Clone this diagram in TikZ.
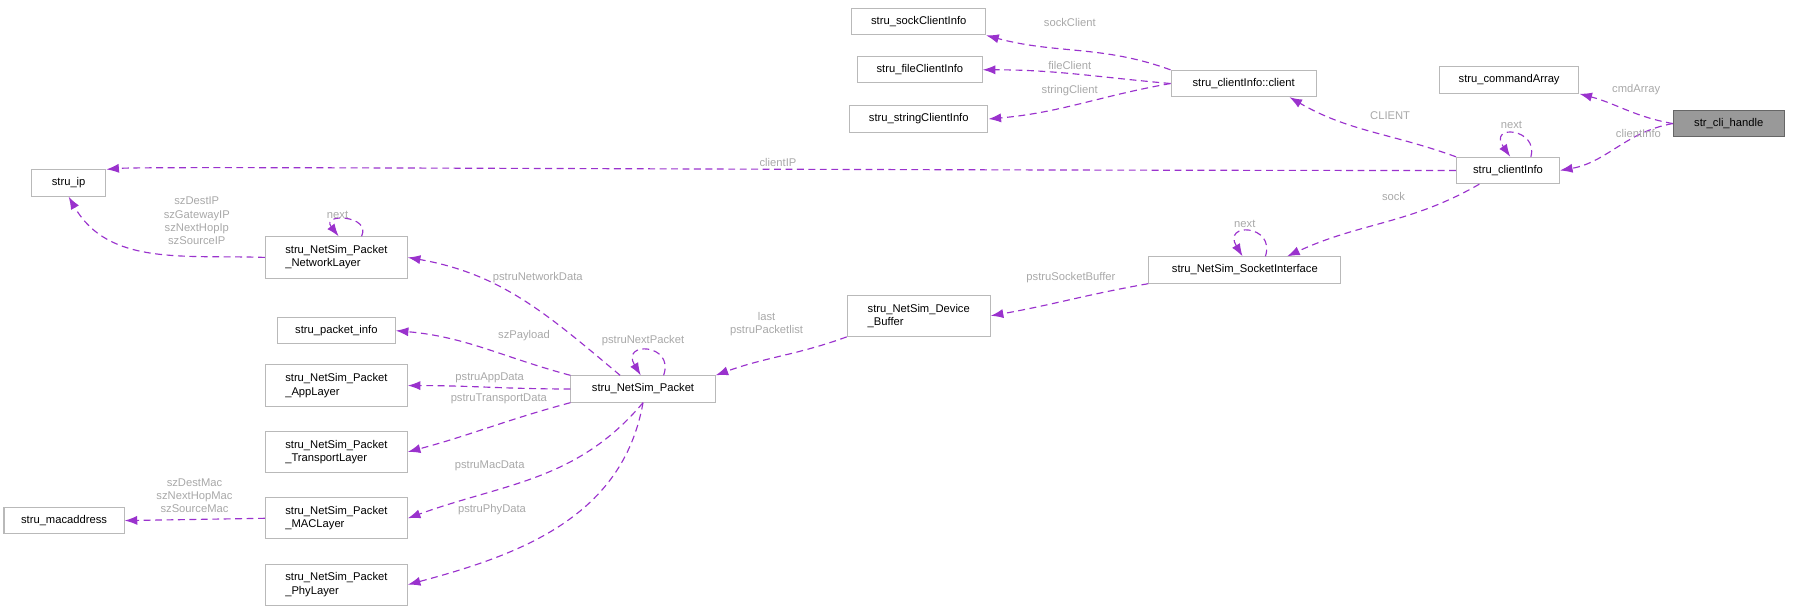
\documentclass[tikz,border=0pt]{standalone}
\usepackage{fontspec}
\setmainfont{Liberation Sans}
\usetikzlibrary{arrows.meta}
\definecolor{edgec}{HTML}{9A32CD}
\definecolor{labc}{HTML}{A8A8A8}
\begin{document}
\begin{tikzpicture}[x=1pt,y=-1pt,
    cls/.style={draw=gray!55, line width=0.9pt, fill=white, minimum height=23pt, inner xsep=5pt, font=\fontsize{9.8}{11.5}\selectfont},
    cls2/.style={cls, align=left, minimum height=36pt},
    uses/.style={draw=edgec, line width=1pt, dash pattern=on 6pt off 4pt, -{Latex[length=11pt,width=8pt]}},
    lab/.style={text=labc, font=\fontsize{9.8}{11.5}\selectfont, align=center, inner sep=1pt}]
  \useasboundingbox (0,0) rectangle (1568,537);

  % classes
  \node[cls, fill=gray!80, draw=gray!80!black, minimum width=97pt] (handle) at (1511,108) {str\_cli\_handle};
  \node[cls, minimum width=122pt] (cmdarr) at (1319,70) {stru\_commandArray};
  \node[cls, minimum width=90pt] (cinfo) at (1318,149) {stru\_clientInfo};
  \node[cls, minimum width=127pt] (client) at (1087,73) {stru\_clientInfo::client};
  \node[cls, minimum width=117pt] (sock) at (803,19) {stru\_sockClientInfo};
  \node[cls, minimum width=109pt] (file) at (804,61) {stru\_fileClientInfo};
  \node[cls, minimum width=121pt] (string) at (803,104) {stru\_stringClientInfo};
  \node[cls, minimum width=65pt] (ip) at (60,160) {stru\_ip};
  \node[cls, minimum width=168pt] (sockif) at (1088,236) {stru\_NetSim\_SocketInterface};
  \node[cls2, minimum width=125pt] (devbuf) at (803,276) {stru\_NetSim\_Device\\\_Buffer};
  \node[cls2, minimum width=124pt] (netlay) at (294,225) {stru\_NetSim\_Packet\\\_NetworkLayer};
  \node[cls, minimum width=103pt] (pinfo) at (294,289) {stru\_packet\_info};
  \node[cls, minimum width=126pt] (packet) at (562,340) {stru\_NetSim\_Packet};
  \node[cls2, minimum width=124pt] (applay) at (294,337) {stru\_NetSim\_Packet\\\_AppLayer};
  \node[cls2, minimum width=124pt] (translay) at (294,395) {stru\_NetSim\_Packet\\\_TransportLayer};
  \node[cls2, minimum width=124pt] (maclay) at (294,453) {stru\_NetSim\_Packet\\\_MACLayer};
  \node[cls, minimum width=105pt] (mac) at (56,455) {stru\_macaddress};
  \node[cls2, minimum width=124pt] (phylay) at (294,511) {stru\_NetSim\_Packet\\\_PhyLayer};

  % relations
  \draw[uses] (handle.west) to[out=170,in=-15] (cmdarr.south east);
  \node[lab] at (1430,78) {cmdArray};
  \draw[uses] (handle.west) to[out=-170,in=10] (cinfo.east);
  \node[lab] at (1432,117) {clientInfo};
  \draw[uses] ([xshift=20pt]cinfo.north) .. controls (1345,112) and (1300,108) .. ([xshift=2pt]cinfo.north);
  \node[lab] at (1321,109) {next};
  \draw[uses] (cinfo.north west) to[out=160,in=-30] ([xshift=40pt]client.south);
  \node[lab] at (1215,101) {CLIENT};
  \draw[uses] (client.north west) to[out=160,in=-15] (sock.south east);
  \node[lab] at (935,20) {sockClient};
  \draw[uses] (client.west) to[out=175,in=0] (file.east);
  \node[lab] at (935,57) {fileClient};
  \draw[uses] (client.west) to[out=-170,in=5] (string.east);
  \node[lab] at (935,79) {stringClient};
  \draw[uses] (cinfo.west) .. controls (700,149) and (130,145) .. (ip.north east);
  \node[lab] at (680,142) {clientIP};
  \draw[uses] ([xshift=-25pt]cinfo.south) to[out=-150,in=25] ([xshift=37pt]sockif.north);
  \node[lab] at (1218,172) {sock};
  \draw[uses] ([xshift=18pt]sockif.north) .. controls (1115,196) and (1068,194) .. ([xshift=-2pt]sockif.north);
  \node[lab] at (1088,196) {next};
  \draw[uses] (sockif.south west) to[out=-170,in=10] (devbuf.east);
  \node[lab] at (936,243) {pstruSocketBuffer};
  \draw[uses] (devbuf.south west) to[out=-160,in=20] (packet.north east);
  \node[lab] at (670,283) {last\\pstruPacketlist};
  \draw[uses] ([xshift=18pt]packet.north) .. controls (590,300) and (542,298) .. ([xshift=-2pt]packet.north);
  \node[lab] at (562,298) {pstruNextPacket};
  \draw[uses] ([xshift=-20pt]packet.north) to[out=140,in=-10] (netlay.east);
  \node[lab] at (470,243) {pstruNetworkData};
  \draw[uses] (packet.north west) to[out=165,in=-5] (pinfo.east);
  \node[lab] at (458,293) {szPayload};
  \draw[uses] (packet.west) to[out=180,in=0] (applay.east);
  \node[lab] at (428,330) {pstruAppData};
  \draw[uses] (packet.south west) to[out=-165,in=15] (translay.east);
  \node[lab] at (436,349) {pstruTransportData};
  \draw[uses] (packet.south) to[out=-130,in=20] (maclay.east);
  \node[lab] at (428,407) {pstruMacData};
  \draw[uses] (packet.south) to[out=-100,in=15] (phylay.east);
  \node[lab] at (430,445) {pstruPhyData};
  \draw[uses] (netlay.west) to[out=178,in=-60] (ip.south);
  \node[lab] at (172,193) {szDestIP\\szGatewayIP\\szNextHopIp\\szSourceIP};
  \draw[uses] ([xshift=22pt]netlay.north) .. controls (325,188) and (280,186) .. ([xshift=2pt]netlay.north);
  \node[lab] at (295,188) {next};
  \draw[uses] (maclay.west) -- (mac.east);
  \node[lab] at (170,433) {szDestMac\\szNextHopMac\\szSourceMac};
\end{tikzpicture}
\end{document}
